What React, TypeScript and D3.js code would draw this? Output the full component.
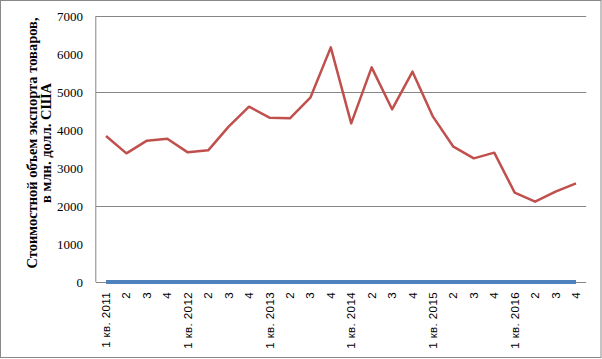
import React from "react";
import * as d3 from "d3";

const quarters: string[] = [
  "1 кв. 2011", "2", "3", "4",
  "1 кв. 2012", "2", "3", "4",
  "1 кв. 2013", "2", "3", "4",
  "1 кв. 2014", "2", "3", "4",
  "1 кв. 2015", "2", "3", "4",
  "1 кв. 2016", "2", "3", "4",
];

const exportValues: number[] = [
  3842, 3386, 3719, 3772, 3412, 3465, 4088, 4614, 4325, 4307, 4851, 6175,
  4175, 5649, 4544, 5535, 4351, 3561, 3254, 3404, 2351, 2114, 2377, 2596,
];

const baseValues: number[] = [
  0, 0, 0, 0, 0, 0, 0, 0, 0, 0, 0, 0,
  0, 0, 0, 0, 0, 0, 0, 0, 0, 0, 0, 0,
];

const yTicks: number[] = [0, 1000, 2000, 3000, 4000, 5000, 6000, 7000];
const gridTicks: number[] = [2000, 5000, 7000];

const yTitle1 = "Стоимостной объем экспорта товаров,";
const yTitle2 = "в млн. долл. США";

export default function App() {
  const W = 602, H = 359;
  const left = 95.8, right = 586.2, top = 16, bottom = 282;
  const idx = quarters.map((_, i) => i);
  const x = d3.scaleBand<number>().domain(idx).range([left, right]);
  const cx = (i: number) => (x(i) as number) + x.bandwidth() / 2;
  const y = d3.scaleLinear().domain([0, 7000]).range([bottom, top]);

  const line = d3.line<number>().x((_, i) => cx(i)).y((d) => y(d));

  return (
    <svg width={W} height={H} style={{ position: "absolute", left: 0, top: 0 }}>
      <rect x={0.5} y={0.5} width={W - 1.5} height={H - 2} fill="#fff" stroke="#888" strokeWidth={1} />
      {gridTicks.map((t) => (
        <line key={t} x1={left} x2={right} y1={Math.round(y(t)) + 0.5} y2={Math.round(y(t)) + 0.5} stroke="#868686" strokeWidth={1} />
      ))}
      <line x1={left} x2={left} y1={top} y2={bottom} stroke="#868686" strokeWidth={1} />
      <line x1={left} x2={right} y1={bottom + 0.5} y2={bottom + 0.5} stroke="#868686" strokeWidth={1} />
      {yTicks.map((t) => (
        <text key={t} x={83} y={y(t)} dy="0.35em" textAnchor="end" fontFamily="Liberation Serif, Times New Roman, serif" fontSize={13} fill="#000">
          {t}
        </text>
      ))}
      <g transform="translate(32,143) rotate(-90)">
        <text x={0} y={0} dy="0.35em" textAnchor="middle" fontFamily="Liberation Serif, Times New Roman, serif" fontSize={14.5} fontWeight="bold" fill="#000">
          {yTitle1}
        </text>
        <text x={0} y={14} dy="0.35em" textAnchor="middle" fontFamily="Liberation Serif, Times New Roman, serif" fontSize={14.5} fontWeight="bold" fill="#000">
          {yTitle2}
        </text>
      </g>
      {quarters.map((q, i) => (
        <text key={i} transform={`translate(${cx(i)},${292}) rotate(-90)`} dy="0.35em" textAnchor="end" fontFamily="Liberation Sans, Arial, sans-serif" fontSize={11.5} letterSpacing={0.4} fill="#000">
          {q}
        </text>
      ))}
      <path d={line(baseValues) || ""} fill="none" stroke="#4F81BD" strokeWidth={4} />
      <path d={line(exportValues) || ""} fill="none" stroke="#C0504D" strokeWidth={2.5} strokeLinejoin="round" />
    </svg>
  );
}
